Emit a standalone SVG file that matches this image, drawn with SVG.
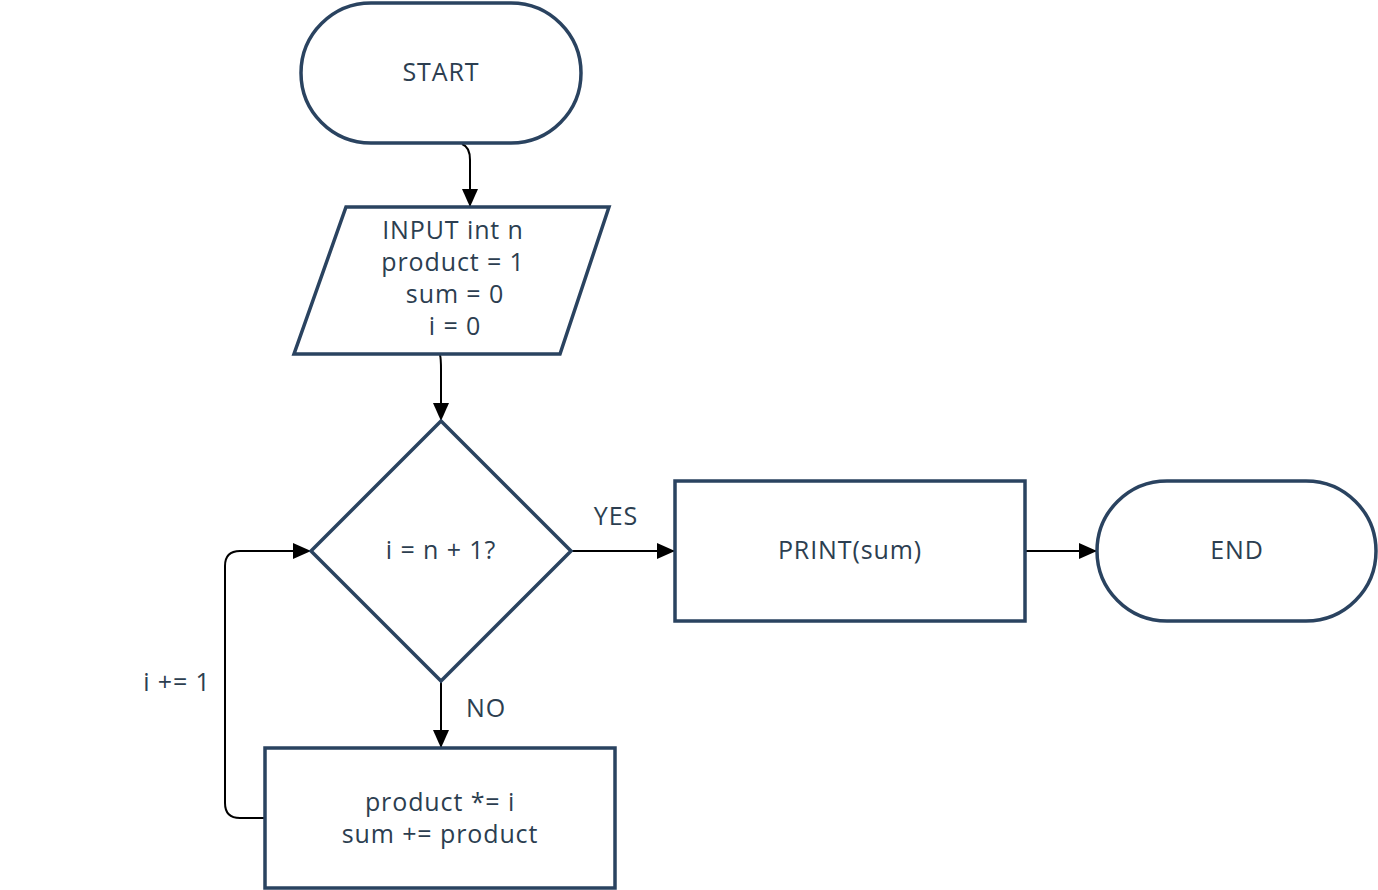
<svg xmlns="http://www.w3.org/2000/svg" width="1378" height="890" viewBox="0 0 1378 890">
<style>
.s{fill:#fff;stroke:#2a4360;stroke-width:3.5}
.t{font-family:"Open Sans",Lato,sans-serif;font-size:25px;fill:#2c3e50;text-anchor:middle;dominant-baseline:central;letter-spacing:0.9px}
.c{fill:none;stroke:#000;stroke-width:2}
</style>
<defs>
<marker id="b" markerWidth="18" markerHeight="16" refX="17" refY="8" orient="auto" markerUnits="userSpaceOnUse" viewBox="0 0 18 16">
<path d="M0,0 L18,8 L0,16 Z" fill="#000"/>
</marker>
</defs>
<rect width="1378" height="890" fill="#fff"/>
<g id="connectors">
<path class="c" d="M462,144 Q470,147 470,160 L470,206" marker-end="url(#b)"/>
<path class="c" d="M440,355 Q441,358 441,370 L441,420" marker-end="url(#b)"/>
<path class="c" d="M572,551 L674,551" marker-end="url(#b)"/>
<path class="c" d="M441,682 L441,747" marker-end="url(#b)"/>
<path class="c" d="M1026,551 L1096,551" marker-end="url(#b)"/>
<path class="c" d="M264,818 L240,818 Q225,818 225,803 L225,566 Q225,551 240,551 L310,551" marker-end="url(#b)"/>
<text class="t" x="616" y="515">YES</text>
<text class="t" x="486" y="707">NO</text>
<text class="t" x="177" y="681">i += 1</text>
</g>
<g id="start">
<rect class="s" x="301" y="3" width="280" height="140" rx="70" ry="70"/>
<text class="t" x="441" y="71">START</text>
</g>
<g id="input">
<polygon class="s" points="346,207 609,207 560,354 294,354"/>
<text class="t" x="453" y="229">INPUT int n</text>
<text class="t" x="453" y="261">product = 1</text>
<text class="t" x="455" y="293">sum = 0</text>
<text class="t" x="455" y="325">i = 0</text>
</g>
<g id="decision">
<polygon class="s" points="441,421 571,551 441,681 311,551"/>
<text class="t" x="441" y="549">i = n + 1?</text>
</g>
<g id="print">
<rect class="s" x="675" y="481" width="350" height="140"/>
<text class="t" x="850" y="549">PRINT(sum)</text>
</g>
<g id="end">
<rect class="s" x="1097" y="481" width="279" height="140" rx="70" ry="70"/>
<text class="t" x="1237" y="549">END</text>
</g>
<g id="body">
<rect class="s" x="265" y="748" width="350" height="140"/>
<text class="t" x="440" y="801">product *= i</text>
<text class="t" x="440" y="833">sum += product</text>
</g>
</svg>
